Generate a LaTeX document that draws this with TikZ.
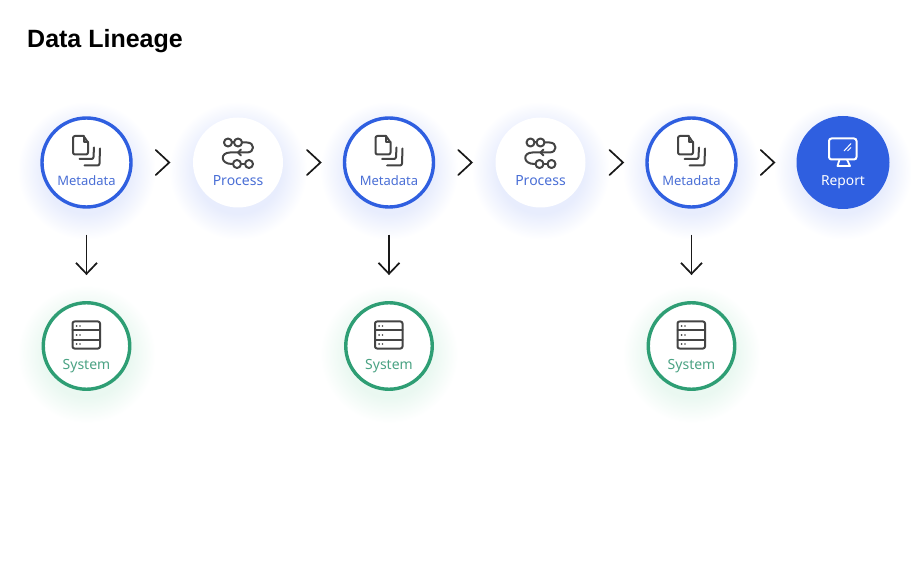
\documentclass[tikz,border=0pt]{standalone}
\usepackage{fontspec}
\setmainfont{Noto Sans}
\newfontfamily\titlefont{Liberation Sans}
\usetikzlibrary{arrows.meta,calc}
\definecolor{blueA}{HTML}{2F5FE0}
\definecolor{blueT}{HTML}{4A6FD6}
\definecolor{greenA}{HTML}{2E9E74}
\definecolor{greenT}{HTML}{4BA384}
\definecolor{iconC}{HTML}{444444}
\definecolor{glowB}{HTML}{E8EDFD}
\definecolor{glowG}{HTML}{EAF8F1}
\pgfdeclareradialshading{glowblue}{\pgfpoint{0bp}{0bp}}{color(0bp)=(glowB); color(15bp)=(glowB); color(24bp)=(white); color(50bp)=(white)}
\pgfdeclareradialshading{glowgreen}{\pgfpoint{0bp}{0bp}}{color(0bp)=(glowG); color(15bp)=(glowG); color(24bp)=(white); color(50bp)=(white)}
\tikzset{
  meta/.style={circle,draw=blueA,line width=3.4pt,fill=white,minimum size=89pt,inner sep=0pt},
  proc/.style={circle,fill=white,minimum size=90pt,inner sep=0pt},
  sys/.style={circle,draw=greenA,line width=3.4pt,fill=white,minimum size=86.5pt,inner sep=0pt},
  rep/.style={circle,fill=blueA,minimum size=93pt,inner sep=0pt},
  lbl/.style={font=\fontsize{#1}{#1}\selectfont,inner sep=0pt,anchor=base},
  lbl/.default=13,
  ico/.style={draw=iconC,line width=2pt,line cap=round,line join=round},
  chev/.style={draw=black!90,line width=1.7pt,line cap=round,line join=miter},
  down/.style={draw=black!90,line width=1.8pt,-{Straight Barb[length=11pt,width=21pt,line width=1.7pt]},shorten <=26pt,shorten >=26pt},
  pics/glow/.style={code={
    \shade[shading=#1] (0,8) circle[radius=72];
  }},
  pics/docicon/.style={code={
    \draw[ico] (-9,-26.5) -- (-3,-26.5) -- (1.5,-20) -- (1.5,-10) arc[start angle=0,end angle=90,radius=2] -- (-11.5,-8) arc[start angle=90,end angle=180,radius=2] -- (-13.5,-24.5) arc[start angle=180,end angle=270,radius=2] -- cycle;
    \draw[ico] (-3,-26.5) -- (-3,-20) -- (1.5,-20);
    \draw[ico] (-7,-3.5) -- (5,-3.5) arc[start angle=90,end angle=0,radius=2] -- (7.5,-15);
    \draw[ico] (-2,3) -- (11,3) arc[start angle=90,end angle=0,radius=2] -- (13.5,-14);
  }},
  pics/procicon/.style={code={
    \draw[ico] (-10,-20) circle[radius=4];
    \draw[ico] (0,-20) circle[radius=4];
    \draw[ico] (-6,-20) -- (-4,-20);
    \draw[ico] (4,-20) -- (9,-20) .. controls (17,-20) and (17,-10) .. (9,-10) -- (-8,-10) .. controls (-18,-10) and (-18,1.5) .. (-6,1.5) -- (-5,1.5);
    \draw[ico] (3,-13) -- (0,-10) -- (3,-7);
    \draw[ico] (-1,1.5) circle[radius=4];
    \draw[ico] (11,1.5) circle[radius=4];
    \draw[ico] (3,1.5) -- (7,1.5);
  }},
  pics/sysicon/.style={code={
    \draw[ico,rounded corners=2pt] (-14,-24.5) rectangle (13.5,2.5);
    \draw[ico] (-14,-15.5) -- (13.5,-15.5);
    \draw[ico] (-14,-6.5) -- (13.5,-6.5);
    \foreach \yy in {-20,-11,-2}{
      \fill[iconC] (-10,\yy) circle[radius=1];
      \fill[iconC] (-6.5,\yy) circle[radius=.8];
    }
  }},
  pics/repicon/.style={code={
    \draw[draw=white,line width=2pt,rounded corners=2.5pt] (-14,-24) rectangle (13.5,-3);
    \draw[draw=white,line width=1.8pt,line join=round] (-3.5,-3) -- (-5.5,3.5) -- (7,3.5) -- (4,-3);
    \draw[draw=white,line width=1pt] (1,-11.5) -- (8,-19);
    \draw[draw=white,line width=1pt] (4.5,-11.5) -- (8,-15);
  }},
  pics/chevron/.style={code={
    \draw[chev] (-6.5,-12.5) -- (7,0) -- (-6.5,12.5);
  }},
}
\begin{document}
\begin{tikzpicture}[x=1pt,y=-1pt]
\useasboundingbox (0,0) rectangle (911,572);
\fill[white] (0,0) rectangle (911,572);
\node[font=\titlefont\bfseries\fontsize{25}{25}\selectfont,anchor=base west,inner sep=0pt] (title) at (27,47.2) {Data Lineage};
% glows
\foreach \x in {86.5,238,389,540.5,691.5,843}{\pic at (\x,162.5) {glow=glowblue};}
\foreach \x in {86.5,389,691.5}{\pic at (\x,346) {glow=glowgreen};}
% circles
\node[meta] (m1) at (86.5,162.5) {};
\node[proc] (p1) at (238,162.5) {};
\node[meta] (m2) at (389,162.5) {};
\node[proc] (p2) at (540.5,162.5) {};
\node[meta] (m3) at (691.5,162.5) {};
\node[rep]  (r1) at (843,162.5) {};
\node[sys] (s1) at (86.5,346) {};
\node[sys] (s2) at (389,346) {};
\node[sys] (s3) at (691.5,346) {};
% labels
\foreach \n in {m1,m2,m3}{
  \node[lbl=13,text=blueT] (\n t) at ([yshift=-23.5pt]\n.center) {Metadata};
  \pic at (\n.center) {docicon};
}
\foreach \n in {p1,p2}{
  \node[lbl=14,text=blueT] (\n t) at ([yshift=-23.5pt]\n.center) {Process};
  \pic at (\n.center) {procicon};
}
\foreach \n in {s1,s2,s3}{
  \node[lbl=14,text=greenT] (\n t) at ([yshift=-23.5pt]\n.center) {System};
  \pic at (\n.center) {sysicon};
}
\node[lbl=13.8,text=white] (r1t) at ([yshift=-23.5pt]r1.center) {Report};
\pic at (r1.center) {repicon};
% chevrons
\foreach \a/\b in {m1/p1,p1/m2,m2/p2,p2/m3,m3/r1}{
  \pic at ($(\a.center)!.5!(\b.center)$) {chevron};
}
% downward connectors
\foreach \i in {1,2,3}{
  \draw[down] (m\i) -- (s\i);
}
\end{tikzpicture}
\end{document}
